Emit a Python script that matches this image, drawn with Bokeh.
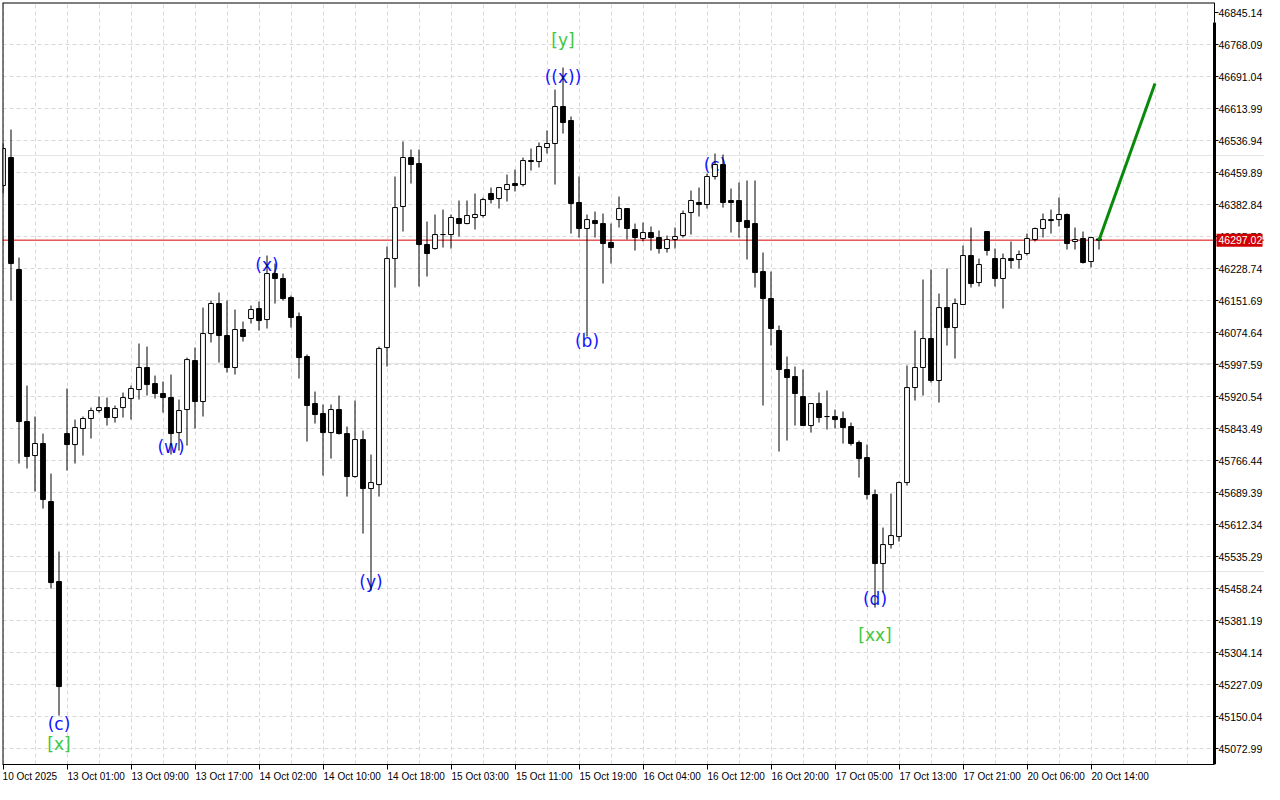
from bokeh.plotting import figure
from bokeh.models import Range1d, FixedTicker, Span, LinearAxis, ColumnDataSource
from bokeh.embed import file_html
from bokeh.resources import INLINE
from bokeh.core.properties import value

# ---------------- data (H1 candles, 10 Oct 2025 -> 20 Oct 2025) ----------------
opens = [46428.5, 46495.9, 46226.2, 45860.2, 45778.4, 45807.3, 45667.6, 45475.0, 45831.3, 45804.8,
         45843.4, 45867.5, 45886.7, 45893.9, 45869.9, 45893.9, 45915.6, 45937.3, 45990.3, 45951.7,
         45927.7, 45918.0, 45833.7, 45889.1, 46007.1, 45908.4, 46072.1, 46144.4, 46067.3, 45990.3,
         46081.8, 46108.3, 46132.3, 46105.8, 46216.6, 46204.6, 46158.8, 46113.1, 46016.8, 45903.6,
         45879.5, 45833.7, 45889.1, 45831.3, 45727.8, 45816.9, 45698.9, 45708.5, 46038.4, 46252.7,
         46378.0, 46495.9, 46481.5, 46286.4, 46276.8, 46310.5, 46310.5, 46349.1, 46337.0, 46351.5,
         46356.3, 46409.3, 46397.2, 46418.9, 46433.3, 46430.9, 46488.7, 46486.3, 46520.0, 46529.7,
         46618.8, 46585.0, 46387.6, 46325.0, 46344.2, 46337.0, 46291.3, 46346.6, 46373.1, 46322.6,
         46300.9, 46315.3, 46303.3, 46276.8, 46298.5, 46308.1, 46363.5, 46387.6, 46382.8, 46450.2,
         46479.1, 46392.4, 46392.4, 46344.2, 46337.0, 46221.4, 46156.4, 46079.4, 45985.4, 45968.6,
         45920.4, 45850.6, 45903.6, 45872.3, 45872.3, 45867.5, 45848.2, 45809.7, 45773.5, 45684.4,
         45518.3, 45564.0, 45583.3, 45713.3, 45942.1, 45990.3, 46060.1, 45959.0, 46134.7, 46086.6,
         46142.0, 46260.0, 46194.9, 46317.8, 46252.7, 46204.6, 46252.7, 46250.3, 46264.8, 46298.5,
         46325.0, 46346.6, 46346.6, 46358.7, 46293.7, 46300.9, 46245.5, 46300.0]
highs = [46530.0, 46563.4, 46255.1, 45946.9, 45872.3, 45831.3, 45735.0, 45547.2, 45939.7, 45865.0,
         45872.3, 45893.9, 45920.4, 45918.0, 45898.8, 45930.1, 45946.9, 46048.1, 46040.8, 45971.0,
         45956.6, 45973.4, 45913.2, 46014.3, 46038.4, 46134.7, 46151.6, 46170.9, 46151.6, 46129.9,
         46101.0, 46139.6, 46149.2, 46260.0, 46240.7, 46216.6, 46163.6, 46122.7, 46021.6, 45932.5,
         45901.2, 45901.2, 45922.8, 45848.2, 45910.8, 45838.6, 45780.8, 46040.8, 46281.6, 46450.2,
         46534.5, 46515.2, 46515.2, 46341.8, 46358.7, 46370.7, 46358.7, 46392.4, 46392.4, 46409.3,
         46399.6, 46423.7, 46423.7, 46455.0, 46467.0, 46495.9, 46517.6, 46532.1, 46561.0, 46659.7,
         46712.7, 46594.7, 46450.2, 46358.7, 46365.9, 46361.1, 46337.0, 46402.0, 46373.1, 46337.0,
         46339.4, 46329.8, 46320.2, 46308.1, 46327.4, 46368.3, 46416.5, 46423.7, 46457.4, 46505.6,
         46503.2, 46421.3, 46435.7, 46440.6, 46440.6, 46267.2, 46221.4, 46091.4, 46016.8, 45992.7,
         45985.4, 45903.6, 45930.1, 45934.9, 45889.1, 45884.3, 45857.8, 45814.5, 45804.8, 45696.5,
         45605.0, 45686.9, 45715.8, 45995.1, 46079.4, 46202.2, 46226.2, 46168.5, 46228.7, 46156.4,
         46284.0, 46327.4, 46252.7, 46317.8, 46276.8, 46264.8, 46293.7, 46272.0, 46312.9, 46327.4,
         46361.1, 46370.7, 46399.6, 46361.1, 46327.4, 46317.8, 46303.3, 46303.3]
lows = [46410.0, 46151.6, 45759.1, 45747.1, 45691.7, 45650.7, 45458.1, 45152.3, 45742.2, 45759.1,
        45778.4, 45819.3, 45881.9, 45850.6, 45857.8, 45869.9, 45865.0, 45913.2, 45922.8, 45915.6,
        45881.9, 45780.8, 45790.4, 45802.4, 45843.4, 45872.3, 46050.5, 46002.3, 45978.2, 45973.4,
        46052.9, 46096.2, 46079.4, 46084.2, 46144.4, 46151.6, 46086.6, 45963.8, 45812.1, 45855.4,
        45730.2, 45771.1, 45829.0, 45679.6, 45725.0, 45590.5, 45453.3, 45679.6, 45992.7, 46182.9,
        46317.8, 46433.3, 46185.3, 46209.4, 46274.0, 46279.2, 46276.8, 46305.7, 46335.0, 46322.6,
        46351.5, 46385.2, 46373.1, 46390.0, 46414.1, 46426.1, 46464.6, 46471.9, 46505.6, 46430.9,
        46553.7, 46312.9, 46303.3, 46064.9, 46303.3, 46192.5, 46240.7, 46327.4, 46298.5, 46272.0,
        46293.7, 46272.0, 46264.8, 46267.2, 46276.8, 46303.3, 46310.5, 46353.9, 46373.1, 46443.0,
        46375.5, 46315.3, 46303.3, 46250.3, 46182.9, 45898.8, 46043.2, 45788.0, 45814.5, 45850.6,
        45850.6, 45833.7, 45857.8, 45841.0, 45843.4, 45807.3, 45802.4, 45725.4, 45672.4, 45412.3,
        45448.5, 45554.4, 45571.3, 45706.1, 45910.8, 45922.8, 45954.1, 45906.0, 46043.2, 46011.9,
        46142.0, 46182.9, 46185.3, 46260.0, 46185.3, 46132.3, 46228.7, 46228.7, 46260.0, 46293.7,
        46303.3, 46312.9, 46329.8, 46274.4, 46274.4, 46240.7, 46231.1, 46274.4]
closes = [46517.6, 46240.7, 45860.2, 45776.0, 45807.3, 45672.4, 45472.5, 45222.1, 45804.8, 45845.8,
          45867.5, 45886.7, 45893.9, 45869.9, 45891.5, 45918.0, 45939.7, 45990.3, 45949.3, 45927.7,
          45918.0, 45831.3, 45886.7, 46009.5, 45908.4, 46072.1, 46144.4, 46067.3, 45990.3, 46081.8,
          46064.9, 46129.9, 46103.4, 46216.6, 46204.6, 46156.4, 46110.7, 46014.3, 45898.8, 45877.1,
          45833.7, 45889.1, 45831.3, 45727.8, 45816.9, 45698.9, 45713.3, 46036.0, 46252.7, 46375.5,
          46495.9, 46479.1, 46286.4, 46264.8, 46310.5, 46310.5, 46351.5, 46337.0, 46356.3, 46358.7,
          46394.8, 46394.8, 46423.7, 46430.9, 46428.5, 46488.7, 46486.3, 46522.4, 46529.7, 46618.8,
          46580.2, 46385.2, 46325.0, 46346.6, 46337.0, 46288.9, 46279.2, 46373.1, 46325.0, 46303.3,
          46315.3, 46303.3, 46276.8, 46298.5, 46305.7, 46361.1, 46392.4, 46382.8, 46450.2, 46479.1,
          46387.6, 46387.6, 46341.8, 46327.4, 46219.0, 46156.4, 46084.2, 45985.4, 45966.2, 45927.7,
          45850.6, 45903.6, 45869.9, 45872.3, 45865.0, 45845.8, 45807.3, 45771.1, 45684.4, 45518.3,
          45564.0, 45585.7, 45713.3, 45942.1, 45990.3, 46060.1, 45959.0, 46134.7, 46086.6, 46144.4,
          46260.0, 46192.5, 46238.3, 46272.0, 46204.6, 46252.7, 46247.9, 46262.4, 46300.9, 46325.0,
          46346.6, 46344.2, 46358.7, 46288.9, 46298.5, 46243.1, 46303.3, 46297.02]

time_labels = ["10 Oct 2025", "13 Oct 01:00", "13 Oct 09:00", "13 Oct 17:00", "14 Oct 02:00",
               "14 Oct 10:00", "14 Oct 18:00", "15 Oct 03:00", "15 Oct 11:00", "15 Oct 19:00",
               "16 Oct 04:00", "16 Oct 12:00", "16 Oct 20:00", "17 Oct 05:00", "17 Oct 13:00",
               "17 Oct 21:00", "20 Oct 06:00", "20 Oct 14:00"]
bars_per_label = 8
price_ticks = [45072.99, 45150.04, 45227.09, 45304.14, 45381.19, 45458.24, 45535.29, 45612.34,
               45689.39, 45766.44, 45843.49, 45920.54, 45997.59, 46074.64, 46151.69, 46228.74,
               46305.79, 46382.84, 46459.89, 46536.94, 46613.99, 46691.04, 46768.09, 46845.14]
current_price = 46297.02

wave_text = ["(c)", "[x]", "(w)", "(x)", "(y)", "((x))", "[y]", "(b)", "(c)", "(d)", "[xx]"]
wave_bar = [7, 7, 21, 33, 46, 70, 70, 73, 89, 109, 109]
wave_price = [45133, 45085, 45800, 46238, 45475, 46689, 46778, 46055, 46479, 45434, 45347]

proj_bar = [137, 144]
proj_price = [46297.02, 46674.0]

# ---------------- layout (pixels) ----------------
W, H = 1264, 784
LEFT_B, TOP_B, BOTTOM_B = 2, 2, 20
BAR_PX, BAR0_PX = 8.0, 2.5          # spacing of bars and centre of bar 0
AXIS_PX = 1214                      # price-scale line
TOP_TICK_PX = 12                    # pixel row of the highest price tick


def px_to_bar(px):
    return (px - BAR0_PX) / BAR_PX


x_start, x_end = px_to_bar(LEFT_B), px_to_bar(W)
k_axis = px_to_bar(AXIS_PX)
price_per_px = (price_ticks[1] - price_ticks[0]) / 32.0
y_top = price_ticks[-1] + (TOP_TICK_PX - TOP_B) * price_per_px
y_bot = price_ticks[-1] - ((H - BOTTOM_B) - TOP_TICK_PX) * price_per_px

p = figure(width=W, height=H, x_range=Range1d(x_start, x_end), y_range=Range1d(y_bot, y_top),
           output_backend="svg", toolbar_location=None, y_axis_location=None,
           min_border_left=LEFT_B, min_border_right=0, min_border_top=TOP_B,
           min_border_bottom=BOTTOM_B, background_fill_color="white",
           border_fill_color="white")
p.outline_line_color = None

GRID_COLOR, GRID_DASH = "#d9d9d9", "4 3"

# vertical grid every half label interval
p.xgrid.ticker = FixedTicker(ticks=list(range(0, int(k_axis) + 1, bars_per_label // 2)))
p.xgrid.grid_line_color = GRID_COLOR
p.xgrid.grid_line_dash = GRID_DASH

# horizontal grid (stops at the price scale)
grid_prices = price_ticks[:-1]
p.segment(x0=[x_start] * len(grid_prices), y0=grid_prices, x1=[k_axis] * len(grid_prices),
          y1=grid_prices, line_color=GRID_COLOR, line_dash=GRID_DASH, line_width=1)

# bottom time axis: tick marks
tick_pos = [i * bars_per_label for i in range(len(time_labels))]
xa = p.xaxis[0]
xa.ticker = FixedTicker(ticks=tick_pos)
xa.major_label_overrides = {t: "" for t in tick_pos}
xa.major_label_text_font_size = "1px"
xa.major_label_standoff = 0
xa.major_tick_out = 5
xa.major_tick_in = 0
xa.minor_tick_line_color = None
xa.axis_line_color = "black"
xa.major_tick_line_color = "black"
xa.bounds = (x_start, k_axis)

# bottom time axis: labels written to the right of each tick
label_pos = [round(t + (len(s) * 4.7 / 2 + 1) / BAR_PX, 3) for t, s in zip(tick_pos, time_labels)]
xl = LinearAxis(ticker=FixedTicker(ticks=label_pos),
                major_label_overrides={c: s for c, s in zip(label_pos, time_labels)},
                axis_line_color=None, major_tick_line_color=None, minor_tick_line_color=None,
                major_tick_out=0, major_tick_in=0, major_label_standoff=1,
                major_label_text_font="Liberation Sans", major_label_text_font_size="10px",
                major_label_text_color="black")
p.add_layout(xl, "below")

# current price line
p.add_layout(Span(location=current_price, dimension="width", line_color="#d80000",
                  line_width=1, level="underlay"))

# wave labels (drawn under candles)
wave_color = ["#3cc83c" if t.startswith("[") else "#1414ff" for t in wave_text]
p.text(x=wave_bar, y=wave_price, text=wave_text, text_color=wave_color,
       text_align="center", text_baseline="middle",
       text_font=value("DejaVu Sans"), text_font_size="17px")

# candles
bull = [c >= o for o, c in zip(opens, closes)]
src = ColumnDataSource(dict(
    x=list(range(len(opens))), h=highs, l=lows,
    top=[max(o, c) for o, c in zip(opens, closes)],
    bottom=[min(o, c) for o, c in zip(opens, closes)],
    fill=["white" if b else "black" for b in bull]))
p.segment(x0="x", y0="h", x1="x", y1="l", source=src, line_color="black", line_width=1)
p.vbar(x="x", top="top", bottom="bottom", width=0.6, source=src,
       fill_color="fill", line_color="black", line_width=1)

# projection
p.line(proj_bar, proj_price, line_color="#0a8a0a", line_width=3)

# chart border (left, top) and price scale
p.line([x_start, x_start], [y_bot, y_top], line_color="black", line_width=2)
p.line([x_start, k_axis], [y_top, y_top], line_color="black", line_width=2)
thick_top = price_ticks[-1] - 10 * price_per_px
p.line([k_axis, k_axis], [y_bot, thick_top], line_color="black", line_width=3)
p.line([k_axis, k_axis], [thick_top, y_top], line_color="black", line_width=1)
p.segment(x0=[k_axis] * len(price_ticks), y0=price_ticks,
          x1=[px_to_bar(AXIS_PX + 4)] * len(price_ticks), y1=price_ticks,
          line_color="black", line_width=1)
p.text(x=[px_to_bar(AXIS_PX + 4)] * len(price_ticks), y=price_ticks,
       text=[f"{v:.2f}" for v in price_ticks], text_color="black",
       text_align="left", text_baseline="middle",
       text_font=value("Liberation Sans"), text_font_size="10.5px")

# current price tag
p.rect(x=[px_to_bar(AXIS_PX + 25)], y=[current_price], width=46, height=13,
       width_units="screen", height_units="screen", fill_color="#d00000", line_color=None)
p.text(x=[px_to_bar(AXIS_PX + 4)], y=[current_price], text=[f"{current_price:.2f}"],
       text_color="white", text_align="left", text_baseline="middle",
       text_font=value("Liberation Sans"), text_font_size="10.5px")

open("out.html", "w").write(file_html(p, INLINE))
